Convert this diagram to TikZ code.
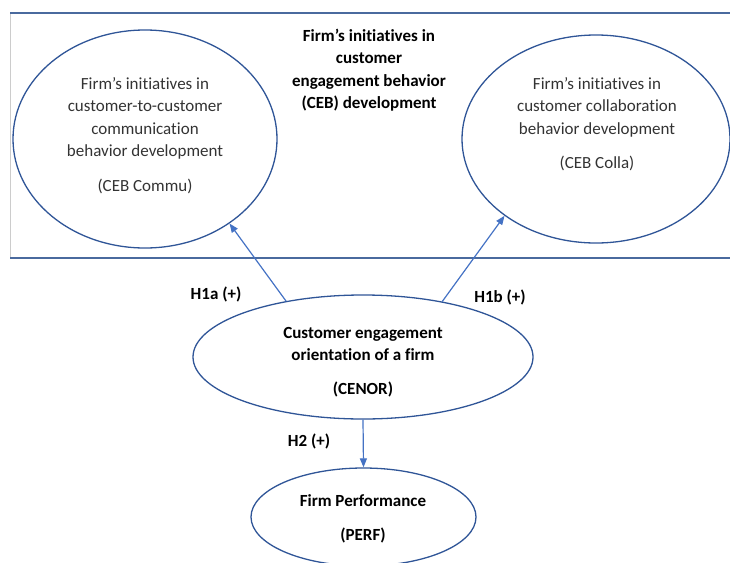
\documentclass[tikz,border=0pt]{standalone}
\usepackage{fontspec}
\setmainfont{Carlito}[Ligatures=NoCommon]
\usetikzlibrary{shapes.geometric,arrows.meta}
\definecolor{frameblue}{HTML}{4A6A9E}
\definecolor{ellblue}{HTML}{2F5597}
\definecolor{arrblue}{HTML}{4472C4}
\definecolor{txtgray}{HTML}{333333}
\tikzset{
  ell/.style={draw=ellblue, line width=1.3pt, ellipse, inner sep=0pt},
  regtxt/.style={align=center, text=txtgray, font=\fontsize{17}{22.5}\selectfont, inner sep=0pt},
  boldtxt/.style={align=center, text=black, font=\fontsize{17}{22.5}\selectfont\bfseries, inner sep=0pt},
  conn/.style={draw=arrblue, line width=1.2pt, -{Triangle[length=9pt,width=7pt]}},
  frame/.style={draw=frameblue, line width=1.8pt},
}
\begin{document}
\begin{tikzpicture}[x=1pt,y=-1pt]
\useasboundingbox (0,0) rectangle (730,562);
\clip (0,0) rectangle (730,562);
% frame
\draw[draw=black!20, line width=1pt] (10,13) -- (10,258);
\draw[frame] (10,13) -- (731,13);
\draw[frame] (10,258) -- (731,258);
% title
\node[boldtxt] (title) at (369,70) {Firm’s initiatives in\\customer\\engagement behavior\\(CEB) development};
% ellipses
\node[ell, minimum width=264pt, minimum height=218pt] (commu) at (145,139) {};
\node[ell, minimum width=268pt, minimum height=208pt] (colla) at (596,139) {};
\node[ell, minimum width=340pt, minimum height=124pt] (cenor) at (363,357) {};
\node[ell, minimum width=225pt, minimum height=98pt] (perf) at (363.5,517) {};
% texts
\node[regtxt, anchor=north] (commutxt) at (145,77) {Firm’s initiatives in\\customer-to-customer\\communication\\behavior development\\[12pt](CEB Commu)};
\node[regtxt, anchor=north] (collatxt) at (597,77) {Firm’s initiatives in\\customer collaboration\\behavior development\\[12pt](CEB Colla)};
\node[boldtxt, anchor=north] (cenortxt) at (363,327) {Customer engagement\\orientation of a firm\\[11pt](CENOR)};
\node[boldtxt, anchor=north] (perftxt) at (363,494) {Firm Performance\\[12pt](PERF)};
% connectors
\draw[conn] (cenor.144.5) -- (commu.-45);
\draw[conn] (cenor.35.5) -- (colla.220);
\draw[conn] (cenor.south) -- (perf.north);
% labels
\node[boldtxt] (h1a) at (216,294) {H1a (+)};
\node[boldtxt] (h1b) at (500,297) {H1b (+)};
\node[boldtxt] (h2) at (309,441) {H2 (+)};
\end{tikzpicture}
\end{document}
